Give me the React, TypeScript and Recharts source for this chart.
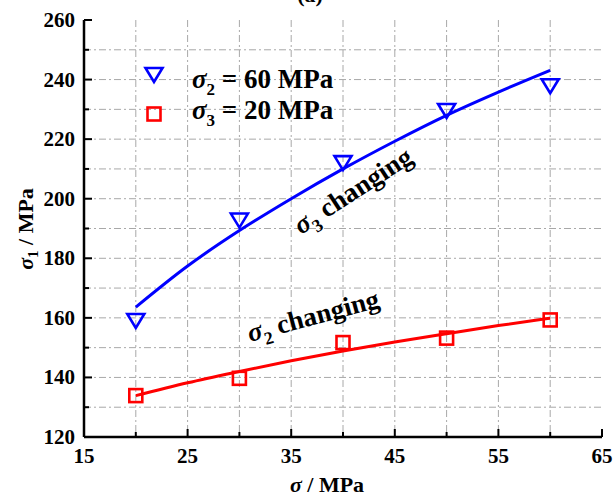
import React from "react";
import { ComposedChart, Line, XAxis, YAxis, CartesianGrid } from "recharts";

const xTicks = [15, 20, 25, 30, 35, 40, 45, 50, 55, 60, 65];
const xMajor = [15, 25, 35, 45, 55, 65];
const yTicks = [120, 130, 140, 150, 160, 170, 180, 190, 200, 210, 220, 230, 240, 250, 260];
const yMajor = [120, 140, 160, 180, 200, 220, 240, 260];
const gridX = [20, 25, 30, 35, 40, 45, 50, 55, 60];
const gridY = [130, 140, 150, 160, 170, 180, 190, 200, 210, 220, 230, 240, 250];

const fitX = [20, 25, 30, 35, 40, 45, 50, 55, 60];
const blueFit = [163.6, 177.4, 189.3, 200.0, 210.0, 219.3, 228.0, 235.8, 243.1];
const redFit = [133.9, 138.2, 142.0, 145.6, 148.9, 151.9, 154.7, 157.4, 159.9];

const pointX = [20, 30, 40, 50, 60];
const bluePoints = [159.3, 193.0, 212.3, 229.8, 238.1];
const redPoints = [133.9, 139.7, 151.7, 153.2, 159.3];

const blueFitData = fitX.map((x, i) => ({ x, y: blueFit[i] }));
const redFitData = fitX.map((x, i) => ({ x, y: redFit[i] }));
const bluePtData = pointX.map((x, i) => ({ x, y: bluePoints[i] }));
const redPtData = pointX.map((x, i) => ({ x, y: redPoints[i] }));

const FONT = "'Liberation Serif', 'Times New Roman', serif";
const BLUE = "#0000ff";
const RED = "#ff0000";

const XTick = (props: any) => {
  const { x, y, payload } = props;
  const major = xMajor.includes(payload.value);
  return (
    <g>
      <line x1={x} y1={y} x2={x} y2={y - (major ? 8 : 5)} stroke="#000" strokeWidth={2} />
      {major && (
        <text x={x} y={463} textAnchor="middle" fontFamily={FONT} fontWeight="bold" fontSize={21} fill="#000">
          {payload.value}
        </text>
      )}
    </g>
  );
};

const YTick = (props: any) => {
  const { x, y, payload } = props;
  const major = yMajor.includes(payload.value);
  return (
    <g>
      <line x1={x} y1={y} x2={x + (major ? 8 : 5)} y2={y} stroke="#000" strokeWidth={2} />
      {major && (
        <text x={75} y={y + 7} textAnchor="end" fontFamily={FONT} fontWeight="bold" fontSize={21} fill="#000">
          {payload.value}
        </text>
      )}
    </g>
  );
};

const TriDot = (props: any) => {
  const { cx, cy } = props;
  if (cx == null || cy == null) return <g />;
  return (
    <path
      d={`M${cx - 8.5},${cy - 6} L${cx + 8.5},${cy - 6} L${cx},${cy + 8} Z`}
      fill="none"
      stroke={BLUE}
      strokeWidth={2.6}
      strokeLinejoin="miter"
    />
  );
};

const SqDot = (props: any) => {
  const { cx, cy } = props;
  if (cx == null || cy == null) return <g />;
  return <rect x={cx - 6.5} y={cy - 6.5} width={13} height={13} fill="none" stroke={RED} strokeWidth={2.6} />;
};

export default function App() {
  return (
    <div style={{ position: "absolute", left: 0, top: 0, width: 613, height: 498, background: "#fff" }}>
      <ComposedChart width={613} height={498} margin={{ top: 20, right: 11, bottom: 0, left: 0 }}>
        <CartesianGrid
          horizontalValues={gridY}
          verticalValues={gridX}
          stroke="#a8a8a8"
          strokeWidth={1}
          strokeDasharray="7 3 2 3"
        />
        <XAxis
          type="number"
          dataKey="x"
          domain={[15, 65]}
          ticks={xTicks}
          interval={0}
          height={61}
          tickSize={0}
          tickMargin={0}
          tickLine={false}
          axisLine={{ stroke: "#000", strokeWidth: 2.5 }}
          tick={<XTick />}
          allowDataOverflow
        />
        <YAxis
          type="number"
          dataKey="y"
          domain={[120, 260]}
          ticks={yTicks}
          interval={0}
          width={84}
          tickSize={0}
          tickMargin={0}
          tickLine={false}
          axisLine={{ stroke: "#000", strokeWidth: 2.5 }}
          tick={<YTick />}
          allowDataOverflow
        />
        <Line data={blueFitData} dataKey="y" type="monotone" stroke={BLUE} strokeWidth={3} dot={false} isAnimationActive={false} />
        <Line data={redFitData} dataKey="y" type="monotone" stroke={RED} strokeWidth={3} dot={false} isAnimationActive={false} />
        <Line data={bluePtData} dataKey="y" stroke="none" dot={<TriDot />} activeDot={false} isAnimationActive={false} />
        <Line data={redPtData} dataKey="y" stroke="none" dot={<SqDot />} activeDot={false} isAnimationActive={false} />
      </ComposedChart>
      <svg
        width={613}
        height={498}
        style={{ position: "absolute", left: 0, top: 0, pointerEvents: "none" }}
        fontFamily={FONT}
        fontWeight="bold"
      >
        <text x={310} y={2} textAnchor="middle" fontSize={22} fill="#000">(a)</text>
        {/* legend */}
        <path d="M145.5,68 L162.5,68 L154,82 Z" fill="none" stroke={BLUE} strokeWidth={2.6} />
        <text x={192} y={88} fontSize={27} fill="#000">
          <tspan fontStyle="italic">σ</tspan>
          <tspan fontSize={17} dy={7}>2</tspan>
          <tspan dy={-7}> = 60 MPa</tspan>
        </text>
        <rect x={147.5} y={107.5} width={13} height={13} fill="none" stroke={RED} strokeWidth={2.6} />
        <text x={192} y={119} fontSize={27} fill="#000">
          <tspan fontStyle="italic">σ</tspan>
          <tspan fontSize={17} dy={7}>3</tspan>
          <tspan dy={-7}> = 20 MPa</tspan>
        </text>
        {/* annotations */}
        <text x={301} y={235} fontSize={27} fill="#000" transform="rotate(-33 301 235)">
          <tspan fontStyle="italic">σ</tspan>
          <tspan fontSize={18} dy={7}>3</tspan>
          <tspan dy={-7}> changing</tspan>
        </text>
        <text x={250} y={342} fontSize={27} fill="#000" transform="rotate(-15 250 342)">
          <tspan fontStyle="italic">σ</tspan>
          <tspan fontSize={18} dy={7}>2</tspan>
          <tspan dy={-7}> changing</tspan>
        </text>
        {/* axis titles */}
        <text x={327} y={492} textAnchor="middle" fontSize={22} fill="#000">
          <tspan fontStyle="italic">σ</tspan>
          <tspan> / MPa</tspan>
        </text>
        <text x={33} y={229} textAnchor="middle" fontSize={22} fill="#000" transform="rotate(-90 33 229)">
          <tspan fontStyle="italic">σ</tspan>
          <tspan fontSize={15} dy={5}>1</tspan>
          <tspan dy={-5}> / MPa</tspan>
        </text>
      </svg>
    </div>
  );
}
